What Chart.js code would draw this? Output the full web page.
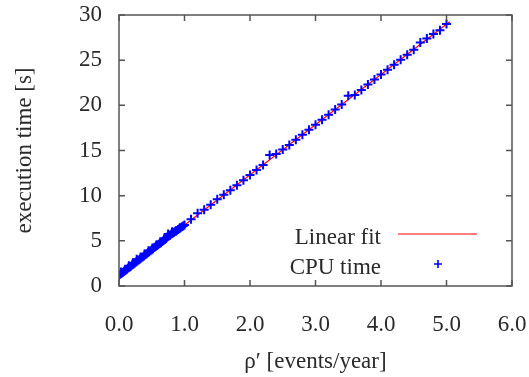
<!DOCTYPE html>
<html>
<head>
<meta charset="utf-8">
<script src="https://cdn.jsdelivr.net/npm/chart.js@4"></script>
<style>
  html, body { margin:0; padding:0; background:#fff; }
  #wrap { width:529px; height:377px; position:relative; }
</style>
</head>
<body>
<div id="wrap"><canvas id="c"></canvas></div>
<script>
// measured CPU time vs rate
const rho = [
  0.00,0.02,0.04,0.06,0.08,0.10,0.12,0.14,0.16,0.18,
  0.20,0.22,0.24,0.26,0.28,0.30,0.32,0.34,0.36,0.38,
  0.40,0.42,0.44,0.46,0.48,0.50,0.52,0.54,0.56,0.58,
  0.60,0.62,0.64,0.66,0.68,0.70,0.72,0.74,0.76,0.78,
  0.80,0.82,0.84,0.86,0.88,0.90,0.92,0.94,0.96,0.98,1.00,
  0.03,0.09,0.15,0.21,0.27,0.33,0.39,0.45,0.51,0.57,
  0.63,0.69,0.75,0.81,0.87,0.93,
  1.1,1.2,1.3,1.4,1.5,1.6,1.7,1.8,1.9,2.0,
  2.1,2.2,2.3,2.4,2.5,2.6,2.7,2.8,2.9,3.0,
  3.1,3.2,3.3,3.4,3.5,3.6,3.7,3.8,3.9,4.0,
  4.1,4.2,4.3,4.4,4.5,4.6,4.7,4.8,4.9,5.0
];
const cpuTime = [
  1.15,1.30,1.40,1.52,1.62,1.75,1.86,1.98,2.08,2.20,
  2.32,2.42,2.55,2.65,2.76,2.88,3.00,3.10,3.22,3.33,
  3.45,3.55,3.68,3.78,3.90,4.02,4.12,4.25,4.36,4.50,
  4.58,4.70,4.80,4.92,5.05,5.15,5.25,5.45,5.55,5.62,
  5.75,5.85,5.95,6.05,6.15,6.25,6.35,6.45,6.55,6.65,6.75,
  1.55,1.80,2.25,2.55,2.95,3.20,3.55,3.90,4.20,4.55,
  4.90,5.20,5.75,6.00,6.10,6.45,
  7.40,8.05,8.45,9.00,9.60,10.10,10.60,11.15,11.70,12.30,
  12.85,13.40,14.50,14.60,15.10,15.60,16.20,16.75,17.30,17.85,
  18.40,18.95,19.55,20.10,21.05,21.15,21.70,22.30,22.85,23.40,
  23.95,24.50,25.05,25.60,26.15,26.95,27.40,27.90,28.30,29.00
];
const fitX = [0.0, 5.05];
const fitY = [1.2, 29.25];
const xTicks = [0,1,2,3,4,5,6];
const yTicks = [0,5,10,15,20,25,30];

const FONT = "'Liberation Serif', 'DejaVu Serif', serif";
const FSIZE = 23;
const TXT = '#2a2a2a';
const AXIS = '#555555';

const insideTicks = {
  id:'insideTicks',
  afterDatasetsDraw(chart){
    const {ctx, chartArea:a, scales:{x, y}} = chart;
    ctx.save();
    ctx.strokeStyle = AXIS; ctx.lineWidth = 1.5;
    ctx.beginPath();
    xTicks.forEach(v => {
      const px = x.getPixelForValue(v);
      ctx.moveTo(px, a.bottom); ctx.lineTo(px, a.bottom - 6);
      ctx.moveTo(px, a.top); ctx.lineTo(px, a.top + 6);
    });
    yTicks.forEach(v => {
      const py = y.getPixelForValue(v);
      ctx.moveTo(a.left, py); ctx.lineTo(a.left + 6, py);
      ctx.moveTo(a.right, py); ctx.lineTo(a.right - 6, py);
    });
    ctx.stroke();
    ctx.strokeRect(a.left, a.top, a.right - a.left, a.bottom - a.top);

    // key
    ctx.font = FSIZE + "px " + FONT;
    ctx.fillStyle = TXT;
    ctx.textAlign = 'right'; ctx.textBaseline = 'middle';
    ctx.fillText('Linear fit', 381, 238);
    ctx.fillText('CPU time', 381, 268);
    ctx.strokeStyle = '#ff0000'; ctx.lineWidth = 1.2;
    ctx.beginPath(); ctx.moveTo(398, 234); ctx.lineTo(477, 234); ctx.stroke();
    ctx.strokeStyle = '#0000ff'; ctx.lineWidth = 1.6;
    ctx.beginPath();
    ctx.moveTo(434, 264); ctx.lineTo(442, 264);
    ctx.moveTo(438, 260); ctx.lineTo(438, 268);
    ctx.stroke();
    ctx.restore();
  }
};

new Chart(document.getElementById('c'), {
  type:'scatter',
  data:{
    datasets:[
      { label:'Linear fit', type:'line', data:fitX.map((v,i)=>({x:v, y:fitY[i]})),
        borderColor:'#ff0000', borderWidth:1.2, pointRadius:0, fill:false, order:2 },
      { label:'CPU time', data:rho.map((v,i)=>({x:v, y:cpuTime[i]})),
        pointStyle:'cross', pointRadius:4.5, borderColor:'#0000ff', borderWidth:2,
        backgroundColor:'#0000ff', order:1 }
    ]
  },
  options:{
    responsive:true, maintainAspectRatio:false, animation:false,
    layout:{ padding:{ top:15, right:17, left:0, bottom:0 } },
    plugins:{ legend:{display:false}, tooltip:{enabled:false} },
    scales:{
      x:{
        type:'linear', min:0, max:6,
        afterBuildTicks(s){ s.ticks = xTicks.map(v=>({value:v})); },
        afterFit(s){ s.height = 91; s.paddingLeft = 0; s.paddingRight = 0; },
        grid:{ display:false, drawTicks:false },
        border:{ display:false },
        ticks:{ color:TXT, font:{family:FONT, size:FSIZE}, padding:25,
          callback:(v)=>Number(v).toFixed(1), maxRotation:0 },
        title:{ display:true, text:'ρ′ [events/year]', color:TXT,
          font:{family:FONT, size:FSIZE}, padding:{top:0, bottom:1} }
      },
      y:{
        type:'linear', min:0, max:30,
        afterBuildTicks(s){ s.ticks = yTicks.map(v=>({value:v})); },
        afterFit(s){ s.width = 119; s.paddingTop = 0; s.paddingBottom = 0; },
        grid:{ display:false, drawTicks:false },
        border:{ display:false },
        ticks:{ color:TXT, font:{family:FONT, size:FSIZE}, padding:17 },
        title:{ display:true, text:'execution time [s]', color:TXT,
          font:{family:FONT, size:FSIZE}, padding:{top:11, bottom:0} }
      }
    }
  },
  plugins:[insideTicks]
});
</script>
</body>
</html>
